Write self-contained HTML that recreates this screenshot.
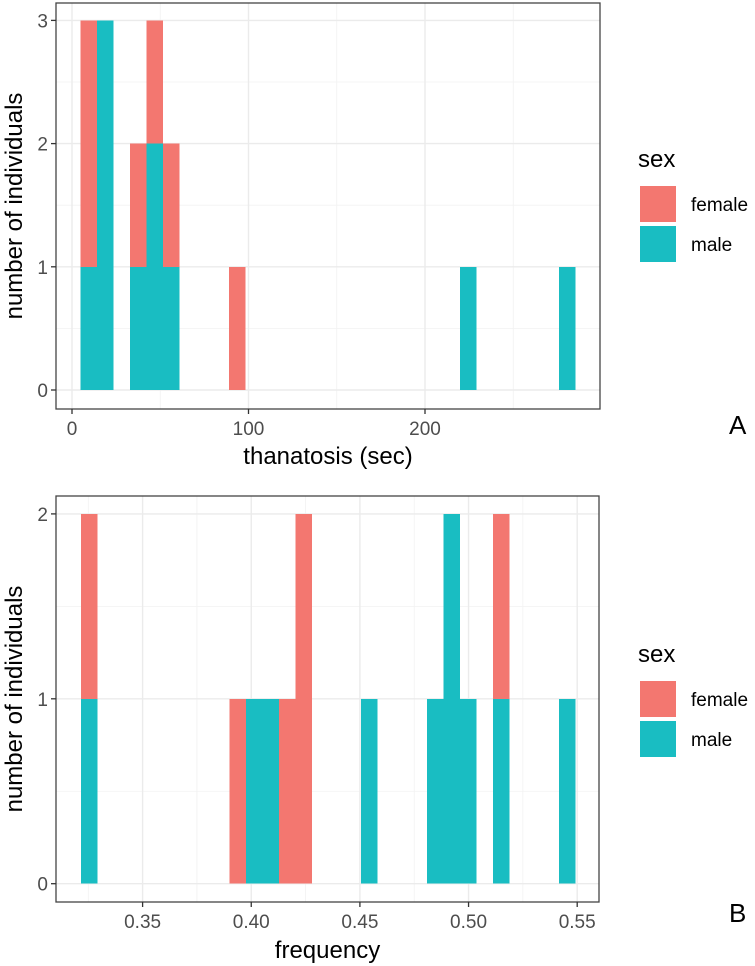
<!DOCTYPE html>
<html><head><meta charset="utf-8"><style>
html,body{margin:0;padding:0;background:#fff;}
svg{display:block;font-family:"Liberation Sans",Arial,sans-serif;}
</style></head><body>
<svg id="fig" width="755" height="966" viewBox="0 0 755 966"></svg>
<script>
// Panel A data (thanatosis, sec) — 30 bins
const aBinStart = 4.7;
const aBinWidth = 9.35;
const aBins = [0,1,3,4,5,9,23,29];
const aMale =   [1,3,1,2,1,0,1,1];
const aFemale = [2,0,1,1,1,1,0,0];
const aXTicks = [0,100,200];
const aXMinor = [50,150,250];
const aYTicks = [0,1,2,3];
const aYMinor = [0.5,1.5,2.5];
// Panel B data (frequency)
const bBinStart = 0.32174;
const bBinWidth = 0.00758;
const bBins = [0,9,10,11,12,13,17,21,22,23,25,29];
const bMale =   [1,0,1,1,0,0,1,1,2,1,1,1];
const bFemale = [1,1,0,0,1,2,0,0,0,0,1,0];
const bXTicks = [0.35,0.40,0.45,0.50,0.55];
const bXTickLabels = ["0.35","0.40","0.45","0.50","0.55"];
const bXMinor = [0.325,0.375,0.425,0.475,0.525];
const bYTicks = [0,1,2];
const bYMinor = [0.5,1.5];

const NS="http://www.w3.org/2000/svg";
const svg=document.getElementById('fig');
function mk(tag,attrs,parent){const e=document.createElementNS(NS,tag);for(const k in attrs)e.setAttribute(k,attrs[k]);(parent||svg).appendChild(e);return e;}

function panel(cfg){
  const g=mk('g',{});
  
  
  const x=v=>cfg.x0px+(v-cfg.x0v)*cfg.xs;
  const y=v=>cfg.y0px-v*cfg.ys;
  const L=cfg.left,R=cfg.right,T=cfg.top,B=cfg.bottom;
  cfg.xMinor.forEach(v=>{const l=mk('line',{x1:x(v),x2:x(v),y1:T,y2:B,stroke:'#f2f2f2','stroke-width':0.8},g);});
  cfg.yMinor.forEach(v=>{const l=mk('line',{x1:L,x2:R,y1:y(v),y2:y(v),stroke:'#f2f2f2','stroke-width':0.8},g);});
  cfg.xTicks.forEach(v=>{const l=mk('line',{x1:x(v),x2:x(v),y1:T,y2:B,stroke:'#ebebeb','stroke-width':1.4},g);});
  cfg.yTicks.forEach(v=>{const l=mk('line',{x1:L,x2:R,y1:y(v),y2:y(v),stroke:'#ebebeb','stroke-width':1.4},g);});
  cfg.bins.forEach((b,i)=>{
    const xl=x(cfg.binStart+b*cfg.binWidth), xr=x(cfg.binStart+(b+1)*cfg.binWidth);
    const m=cfg.male[i], f=cfg.female[i];
    if(m>0){const r=mk('rect',{x:xl,y:y(m),width:xr-xl,height:y(0)-y(m),fill:'#19BDC2','shape-rendering':'crispEdges'},g);}
    if(f>0){const r=mk('rect',{x:xl,y:y(m+f),width:xr-xl,height:y(m)-y(m+f),fill:'#F37770','shape-rendering':'crispEdges'},g);}
  });
  const bd=mk('rect',{x:L,y:T,width:R-L,height:B-T,fill:'none',stroke:'#444','stroke-width':1.3},g);
  
  cfg.xTicks.forEach((v,i)=>{
    const l=mk('line',{x1:x(v),x2:x(v),y1:B,y2:B+5,stroke:'#333','stroke-width':1.3},g);
    
    const t=mk('text',{x:x(v),y:cfg.xLabelY,'text-anchor':'middle','font-size':19,fill:'#4d4d4d'},g);
    t.textContent=cfg.xLabels?cfg.xLabels[i]:String(v);
    
  });
  cfg.yTicks.forEach(v=>{
    const l=mk('line',{x1:L-5,x2:L,y1:y(v),y2:y(v),stroke:'#333','stroke-width':1.3},g);
    
    const t=mk('text',{x:L-8,y:y(v)+7,'text-anchor':'end','font-size':19,fill:'#4d4d4d'},g);
    t.textContent=String(v);
    
  });
  const xt=mk('text',{x:(L+R)/2,y:cfg.xTitleY,'text-anchor':'middle','font-size':24,fill:'#000'},g);
  xt.textContent=cfg.xTitle;
  const yc=(T+B)/2;
  const yt=mk('text',{x:22,y:yc,'text-anchor':'middle','font-size':24,fill:'#000',transform:'rotate(-90 22 '+yc+')'},g);
  yt.textContent='number of individuals';
  const lg=mk('g',{},g);
  const st=mk('text',{x:638,y:cfg.legY,'font-size':24,fill:'#000'},lg);st.textContent='sex';
  
  [['female','#F37770'],['male','#19BDC2']].forEach((p,i)=>{
    const ky=cfg.legY+19+i*40;
    const r=mk('rect',{x:640,y:ky,width:36,height:36,fill:p[1]},lg);
    
    const t=mk('text',{x:691,y:ky+25,'font-size':19,fill:'#000'},lg);t.textContent=p[0];
    
  });
  const pl=mk('text',{x:729,y:cfg.tagY,'font-size':26,fill:'#000'},g);pl.textContent=cfg.tag;
  
}

panel({name:'panel-a',left:56,right:600,top:3,bottom:409,x0v:0,x0px:72,xs:1.765,y0px:390,ys:123.2,
  xTicks:aXTicks,xMinor:aXMinor,yTicks:aYTicks,yMinor:aYMinor,bins:aBins,male:aMale,female:aFemale,
  binStart:aBinStart,binWidth:aBinWidth,xLabelY:435,xTitleY:464,xTitle:'thanatosis (sec)',legY:167,tag:'A',tagY:434});
panel({name:'panel-b',left:56,right:599,top:496,bottom:902,x0v:0.35,x0px:142.6,xs:2173,y0px:883.7,ys:184.9,
  xTicks:bXTicks,xLabels:bXTickLabels,xMinor:bXMinor,yTicks:bYTicks,yMinor:bYMinor,bins:bBins,male:bMale,female:bFemale,
  binStart:bBinStart,binWidth:bBinWidth,xLabelY:928,xTitleY:958,xTitle:'frequency',legY:662,tag:'B',tagY:922});
</script>
</body></html>
